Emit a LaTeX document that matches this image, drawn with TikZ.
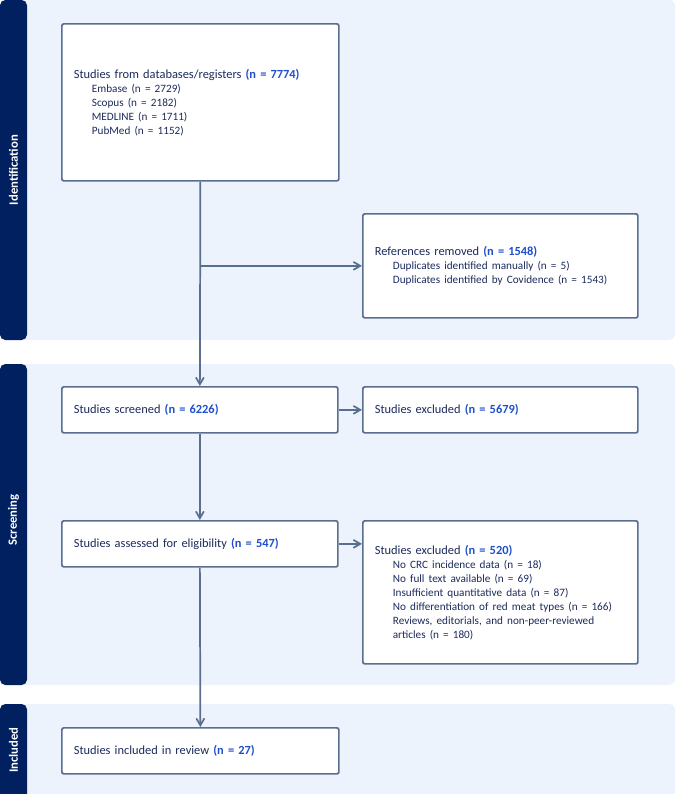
\documentclass[tikz,border=0pt]{standalone}
\usepackage{fontspec}
\setmainfont{Carlito}
\usetikzlibrary{arrows}
\usetikzlibrary{positioning}
\definecolor{navy}{HTML}{002060}
\definecolor{panelbg}{HTML}{EDF3FC}
\definecolor{edge}{HTML}{5A6F90}
\definecolor{numblue}{HTML}{1F4FCC}
\definecolor{bodytext}{HTML}{1C2B5C}
\newcommand{\cnt}[1]{\textbf{\color{numblue}#1}}
\newcommand{\detail}[1]{\hspace*{13.5pt}{\fontsize{8.4}{10.5}\selectfont #1}}
\tikzset{box/.style = {draw=edge, line width=1.3pt, fill=white, rounded corners=1.5pt,
                       anchor=north west, align=left, inner xsep=9pt,
                       font=\fontsize{9.3}{10.5}\selectfont, text=bodytext}}
\tikzset{flow/.style = {draw=edge, line width=1.3pt, ->, >=angle 60}}
\tikzset{stage/.style = {rotate=90, text=white, font=\fontsize{9.5}{11}\selectfont\bfseries}}

\begin{document}
\begin{tikzpicture}[x=0.75pt, y=-0.75pt]
    \useasboundingbox (0, 0) rectangle (677, 794);

    % stage panels
    \fill [panelbg, rounded corners=4pt] (0, 0) rectangle (675, 340);
    \fill [navy, rounded corners=4pt] (0, 0) rectangle (27, 340);
    \fill [panelbg, rounded corners=4pt] (0, 364) rectangle (675, 685);
    \fill [navy, rounded corners=4pt] (0, 364) rectangle (27, 685);
    \fill [panelbg, rounded corners=4pt] (0, 704) rectangle (675, 800);
    \fill [navy, rounded corners=4pt] (0, 704) rectangle (27, 800);
    \node [stage] (ident) at (13.5, 170) {Identification};
    \node [stage] (screen) at (13.5, 520) {Screening};
    \node [stage] (incl) at (13.5, 750) {Included};

    % boxes
    \node [box, text width=189.75pt, minimum height=117.75pt] (sources) at (61, 23)
        {Studies from databases/registers \cnt{(n = 7774)}\\
         \detail{Embase (n = 2729)}\\
         \detail{Scopus (n = 2182)}\\
         \detail{MEDLINE (n = 1711)}\\
         \detail{PubMed (n = 1152)}};
    \node [box, text width=188.25pt, minimum height=78pt] (removed) at (362, 213)
        {References removed \cnt{(n = 1548)}\\
         \detail{Duplicates identified manually (n = 5)}\\
         \detail{Duplicates identified by Covidence (n = 1543)}};
    \node [box, text width=189pt, minimum height=34.5pt] (screened) at (61, 386)
        {Studies screened \cnt{(n = 6226)}};
    \node [box, text width=188.25pt, minimum height=34.5pt] (excl1) at (362, 386)
        {Studies excluded \cnt{(n = 5679)}};
    \node [box, text width=189pt, minimum height=34.5pt] (eligible) at (61, 520)
        {Studies assessed for eligibility \cnt{(n = 547)}};
    \node [box, text width=188.25pt, minimum height=107.25pt] (excl2) at (362, 520)
        {Studies excluded \cnt{(n = 520)}\\
         \detail{No CRC incidence data (n = 18)}\\
         \detail{No full text available (n = 69)}\\
         \detail{Insufficient quantitative data (n = 87)}\\
         \detail{No differentiation of red meat types (n = 166)}\\
         \detail{Reviews, editorials, and non-peer-reviewed}\\
         \detail{articles (n = 180)}};
    \node [box, text width=189.75pt, minimum height=34.5pt] (included) at (61, 727)
        {Studies included in review \cnt{(n = 27)}};

    % connectors
    \coordinate (split) at (sources.south |- removed.west);
    \draw [flow] (sources.south) -- (screened.north);
    \draw [flow] (split) -- (removed.west);
    \draw [flow] (screened.east) -- (excl1.west);
    \draw [flow] (screened.south) -- (eligible.north);
    \draw [flow] (eligible.east) -- (eligible.east -| excl2.west);
    \draw [flow] (eligible.south) -- (included.north);
\end{tikzpicture}
\end{document}
